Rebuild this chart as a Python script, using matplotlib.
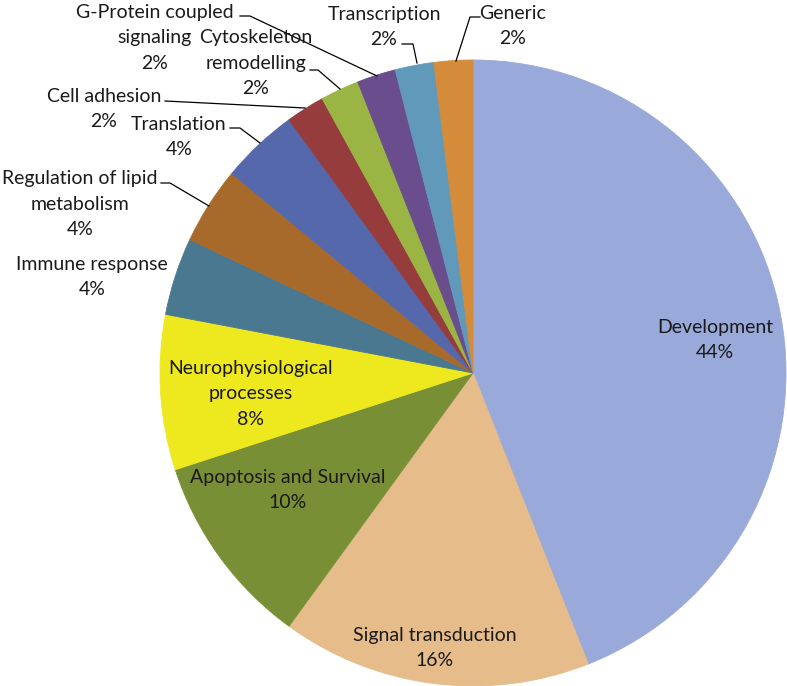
import matplotlib.pyplot as plt

# values of the pie (percent)
categories = ["Development", "Signal transduction", "Apoptosis and Survival",
              "Neurophysiological processes", "Immune response",
              "Regulation of lipid metabolism", "Translation", "Cell adhesion",
              "Cytoskeleton remodelling", "G-Protein coupled signaling",
              "Transcription", "Generic"]
values = [44, 16, 10, 8, 4, 4, 4, 2, 2, 2, 2, 2]
colors = ["#99A9D9", "#E5BC8A", "#798F35", "#EEE81F", "#4A7890", "#A86A2B",
          "#5568AC", "#963C3C", "#9BB544", "#6A4D8C", "#6099BA", "#D48B3A"]

W, H = 787, 686
fig = plt.figure(figsize=(W / 100, H / 100), dpi=100)
ax = fig.add_axes([0, 0, 1, 1])

cx, cy, r = 473, H - 373, 313
wedges, _ = ax.pie(values, colors=colors, startangle=90, counterclock=False,
                   center=(cx, cy), radius=r, frame=True,
                   wedgeprops=dict(linewidth=0.6))
# no visible borders: edge in the same colour as the fill
for w, c in zip(wedges, colors):
    w.set_edgecolor(c)
ax.set_xlim(0, W)
ax.set_ylim(0, H)
ax.set_aspect("equal")
ax.axis("off")

font = dict(family=["Lato", "DejaVu Sans"], fontsize=14, color="#1a1a1a",
            ha="center", va="center")
LINE = 25.5  # pixels between label lines

# label lines and the centre of each label block, in pixels from top-left
labels = {
    "Development": (["Development", "44%"], (715, 340)),
    "Signal transduction": (["Signal transduction", "16%"], (435, 648)),
    "Apoptosis and Survival": (["Apoptosis and Survival", "10%"], (288, 490)),
    "Neurophysiological processes": (["Neurophysiological", "processes", "8%"], (251, 394)),
    "Immune response": (["Immune response", "4%"], (92, 277)),
    "Regulation of lipid metabolism": (["Regulation of lipid", "metabolism", "4%"], (80, 204)),
    "Translation": (["Translation", "4%"], (179, 137)),
    "Cell adhesion": (["Cell adhesion", "2%"], (104, 109)),
    "Cytoskeleton remodelling": (["Cytoskeleton", "remodelling", "2%"], (256, 63)),
    "G-Protein coupled signaling": (["G-Protein coupled", "signaling", "2%"], (155, 38)),
    "Transcription": (["Transcription", "2%"], (384, 27)),
    "Generic": (["Generic", "2%"], (513, 26)),
}
for cat in categories:
    lines, (x, y) = labels[cat]
    top = y - LINE * (len(lines) - 1) / 2
    for i, s in enumerate(lines):
        ax.text(x, H - (top + i * LINE), s, **font)

# leader lines
leaders = [
    [(161, 183), (170, 183), (209, 206)],
    [(230, 128), (240, 128), (260, 143)],
    [(165, 101), (305, 108)],
    [(310, 70), (318, 70), (340, 89)],
    [(240, 16), (250, 16), (377, 76)],
    [(402, 44), (413, 44), (417, 63)],
    [(480, 17), (470, 17), (456, 61)],
]
for pts in leaders:
    xs = [p[0] for p in pts]
    ys = [H - p[1] for p in pts]
    ax.plot(xs, ys, color="black", linewidth=0.9)

fig.savefig("out.png", dpi=100)
